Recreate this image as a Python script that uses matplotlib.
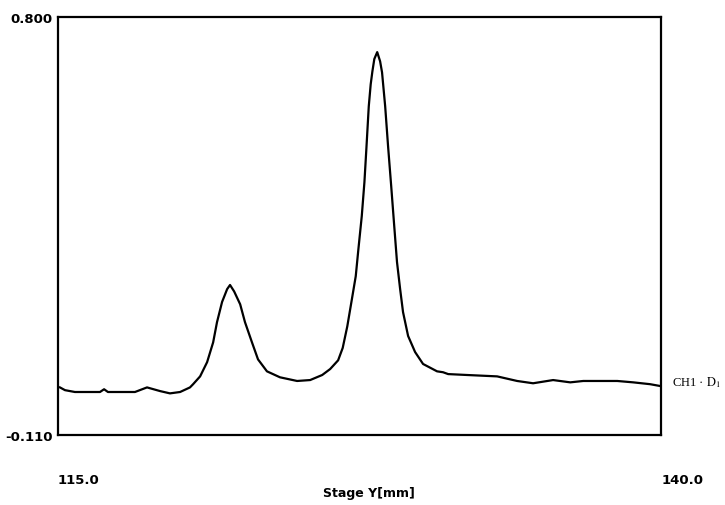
import matplotlib
matplotlib.use("Agg")
import matplotlib.pyplot as plt

# trace: stage position (mm) and signal
stage_y = [115.08, 115.29, 115.70, 116.74, 116.91, 117.07, 118.19, 118.69, 119.23, 119.64,
           120.06, 120.47, 120.60, 120.89, 121.18, 121.43, 121.59, 121.80, 122.01, 122.13,
           122.30, 122.55, 122.75, 123.04, 123.29, 123.66, 124.20, 124.91, 125.45, 125.95,
           126.28, 126.61, 126.80, 126.99, 127.18, 127.34, 127.45, 127.59, 127.70, 127.78,
           127.88, 127.96, 128.03, 128.11, 128.23, 128.35, 128.43, 128.56, 128.68, 128.81,
           128.93, 129.05, 129.18, 129.30, 129.51, 129.80, 130.13, 130.71, 130.96, 131.17,
           131.96, 133.20, 134.03, 134.69, 135.52, 136.23, 136.77, 138.18, 138.84, 139.54,
           139.96]
signal = [-0.006, -0.012, -0.016, -0.016, -0.010, -0.016, -0.016, -0.006, -0.014, -0.019,
          -0.016, -0.006, 0.001, 0.018, 0.049, 0.092, 0.136, 0.180, 0.208, 0.217,
          0.203, 0.175, 0.136, 0.092, 0.055, 0.029, 0.016, 0.008, 0.010, 0.021,
          0.034, 0.053, 0.080, 0.127, 0.186, 0.236, 0.295, 0.367, 0.441, 0.513,
          0.606, 0.654, 0.682, 0.709, 0.724, 0.704, 0.680, 0.606, 0.519, 0.432,
          0.349, 0.267, 0.208, 0.158, 0.106, 0.071, 0.045, 0.029, 0.027, 0.023,
          0.021, 0.018, 0.008, 0.003, 0.010, 0.005, 0.008, 0.008, 0.005, 0.001,
          -0.003]

x_range = [115.0, 140.0]
y_range = [-0.110, 0.800]
x_labels = ['115.0', '140.0']
y_labels = ['-0.110', '0.800']

fig = plt.figure(figsize=(7.25, 5.06), dpi=100)
ax = fig.add_axes([0.080, 0.138, 0.832, 0.826])

ax.plot(stage_y, signal, color='black', lw=1.6, solid_joinstyle='round')
ax.set_xlim(x_range)
ax.set_ylim(y_range)

for s in ax.spines.values():
    s.set_linewidth(1.6)

ax.set_xticks(x_range)
ax.set_xticklabels(x_labels, ha='left', fontweight='bold', fontsize=9.5)
ax.set_yticks(y_range)
ax.set_yticklabels(y_labels, fontweight='bold', fontsize=9.5)
ax.tick_params(axis='x', length=0, pad=27)
ax.tick_params(axis='y', length=0, pad=4)

fig.text(369 / 725, 1 - 494 / 506, 'Stage Y[mm]', ha='center', va='center',
         fontweight='bold', fontsize=9)

plt.rcParams['mathtext.fontset'] = 'stix'
ax.text(1.018, 0.007, 'CH1 · $\\mathrm{D}_1$', transform=ax.get_yaxis_transform(),
        ha='left', va='center', family='Liberation Serif', fontsize=9)

fig.savefig('out.png', dpi=100)
